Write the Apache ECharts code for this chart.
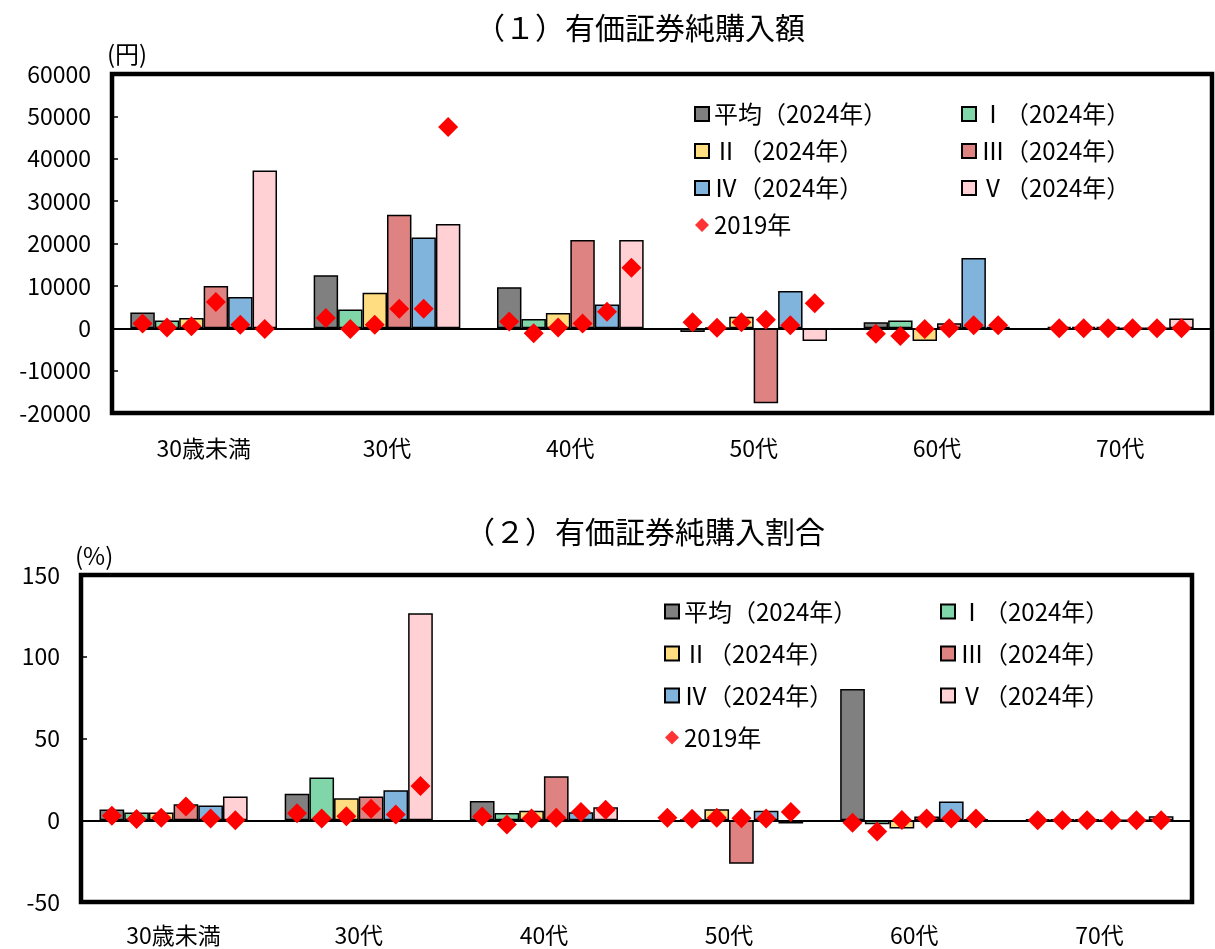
<!DOCTYPE html>
<html>
<head>
<meta charset="utf-8">
<script src="https://cdn.jsdelivr.net/npm/echarts@6/dist/echarts.min.js"></script>
<style>
  html, body { margin: 0; padding: 0; background: #fff; }
  #chart { width: 1215px; height: 949px; }
</style>
</head>
<body>
<div id="chart"></div>
<script>
// 年齢階級
const categories = ['30歳未満', '30代', '40代', '50代', '60代', '70代'];

// 所得階級ラベル
const seriesNames = ['平均（2024年）', 'Ⅰ（2024年）', 'Ⅱ（2024年）', 'Ⅲ（2024年）', 'Ⅳ（2024年）', 'Ⅴ（2024年）'];
const name2019 = '2019年';

// （１）有価証券純購入額（円）2024年
const amountAvg = [3700, 12500, 9700, -900, 1400, 300];
const amountI   = [1800, 4400, 2200, 100, 1800, 300];
const amountII  = [2400, 8400, 3600, 2700, -3000, 300];
const amountIII = [10000, 26800, 20800, -17700, 1200, 0];
const amountIV  = [7400, 21400, 5600, 8800, 16600, 0];
const amountV   = [37200, 24600, 20800, -3000, 300, 2300];

// （１）有価証券純購入額（円）2019年
const amount2019Avg = [1100, 2400, 1600, 1400, -1300, 0];
const amount2019I   = [200, -200, -1200, 100, -1800, 0];
const amount2019II  = [500, 800, 200, 1400, -200, 0];
const amount2019III = [6200, 4600, 1100, 2000, 0, 0];
const amount2019IV  = [800, 4600, 3900, 700, 700, 0];
const amount2019V   = [-200, 47500, 14300, 5900, 700, 0];

// （２）有価証券純購入割合（%）2024年
const ratioAvg = [6.6, 16.2, 11.7, -1.0, 80.3, 0.5];
const ratioI   = [4.7, 26.2, 4.5, 0.3, -2.5, 0.5];
const ratioII  = [4.7, 13.5, 5.8, 6.8, -5.1, 0.5];
const ratioIII = [9.8, 14.6, 26.9, -26.6, 2.3, 0];
const ratioIV  = [9.0, 18.3, 4.9, 5.8, 11.5, 0];
const ratioV   = [14.6, 126.6, 8.0, -2.0, 0.5, 2.5];

// （２）有価証券純購入割合（%）2019年
const ratio2019Avg = [2.7, 4.3, 2.3, 1.5, -1.6, 0];
const ratio2019I   = [0.8, 1.0, -2.6, 0.9, -6.9, 0];
const ratio2019II  = [1.6, 2.5, 1.0, 1.6, 0.2, 0];
const ratio2019III = [8.4, 7.0, 1.6, 1.2, 1.0, 0];
const ratio2019IV  = [1.0, 3.5, 5.1, 1.0, 1.0, 0];
const ratio2019V   = [0, 20.9, 6.4, 5.1, 1.0, 0];

// 軸目盛
const amountAxis = { min: -20000, max: 60000, interval: 10000 };
const ratioAxis  = { min: -50, max: 150, interval: 50 };

const barColors = ['#808080', '#80D6A8', '#FFDD80', '#DE8282', '#80B4DC', '#FFD0D4'];
const FONT = '"Noto Sans CJK JP", "Noto Sans", sans-serif';

const amount2024 = [amountAvg, amountI, amountII, amountIII, amountIV, amountV];
const amount2019 = [amount2019Avg, amount2019I, amount2019II, amount2019III, amount2019IV, amount2019V];
const ratio2024 = [ratioAvg, ratioI, ratioII, ratioIII, ratioIV, ratioV];
const ratio2019 = [ratio2019Avg, ratio2019I, ratio2019II, ratio2019III, ratio2019IV, ratio2019V];

// 各棒の上に 2019年 の値をひし形で重ねる
function buildSeries(values2024, values2019, gridIdx) {
  const list = values2024.map((vals, k) => {
    const s = {
      name: seriesNames[k],
      type: 'bar',
      xAxisIndex: gridIdx,
      yAxisIndex: gridIdx,
      barGap: '0%',
      barCategoryGap: '20%',
      data: vals,
      itemStyle: { color: barColors[k], borderColor: '#000', borderWidth: 1.5 },
      emphasis: { disabled: true },
      markPoint: {
        symbol: 'diamond',
        symbolSize: 20,
        silent: true,
        label: { show: false },
        itemStyle: { color: '#FF0000', borderWidth: 0 },
        data: values2019[k].map((v, i) => ({ coord: [i, v] }))
      }
    };
    if (k === 0) {
      s.markLine = {
        silent: true,
        symbol: 'none',
        label: { show: false },
        lineStyle: { color: '#000', width: 1.8, type: 'solid' },
        data: [{ yAxis: 0 }]
      };
    }
    return s;
  });
  list.push({
    name: name2019,
    type: 'scatter',
    xAxisIndex: gridIdx,
    yAxisIndex: gridIdx,
    symbol: 'diamond',
    symbolSize: 18,
    itemStyle: { color: '#FF0000' },
    data: []
  });
  return list;
}

function legendFor(left, top, textW, lineH) {
  return {
    left: left,
    top: top,
    width: 2 * (14 + 5 + textW) + 13 + 10,
    orient: 'horizontal',
    itemWidth: 14,
    itemHeight: 14,
    itemGap: 13,
    selectedMode: false,
    data: seriesNames.map((n) => ({ name: n, icon: 'rect' })).concat([{ name: name2019, icon: 'diamond' }]),
    textStyle: { fontFamily: FONT, fontSize: 24, color: '#000', width: textW, lineHeight: lineH }
  };
}

function xAxisFor(gridIdx) {
  return {
    type: 'category',
    gridIndex: gridIdx,
    data: categories,
    position: 'bottom',
    axisLine: { show: false, onZero: false },
    axisTick: { show: false },
    axisLabel: { fontFamily: FONT, fontSize: 23, color: '#000', margin: gridIdx === 0 ? 24 : 22 }
  };
}

function yAxisFor(gridIdx, range) {
  return {
    type: 'value',
    gridIndex: gridIdx,
    min: range.min,
    max: range.max,
    interval: range.interval,
    axisLine: { show: false },
    axisTick: { show: true, inside: true, length: 6, lineStyle: { color: '#000', width: 1.5 } },
    splitLine: { show: false },
    axisLabel: { fontFamily: FONT, fontSize: 23, color: '#000', margin: 21, formatter: (v) => String(v) }
  };
}

const chart = echarts.init(document.getElementById('chart'), null, { renderer: 'canvas' });
chart.setOption({
  animation: false,
  backgroundColor: '#fff',
  textStyle: { fontFamily: FONT },
  graphic: [
    { type: 'text', x: 640, y: 28, style: { text: '（１）有価証券純購入額', font: '30px ' + FONT, fill: '#000', textAlign: 'center', textVerticalAlign: 'middle' } },
    { type: 'text', x: 645, y: 532, style: { text: '（２）有価証券純購入割合', font: '30px ' + FONT, fill: '#000', textAlign: 'center', textVerticalAlign: 'middle' } },
    { type: 'text', x: 107, y: 54, style: { text: '(円)', font: '24px ' + FONT, fill: '#000', textAlign: 'left', textVerticalAlign: 'middle' } },
    { type: 'text', x: 75, y: 556, style: { text: '(%)', font: '24px ' + FONT, fill: '#000', textAlign: 'left', textVerticalAlign: 'middle' } }
  ],
  legend: [
    legendFor(689, 97, 234, 24),
    legendFor(659, 592, 243, 29)
  ],
  grid: [
    { left: 112, right: 3, top: 74, height: 339, show: true, borderColor: '#000', borderWidth: 4.5, backgroundColor: 'transparent' },
    { left: 81, right: 23, top: 575, height: 327, show: true, borderColor: '#000', borderWidth: 4.5, backgroundColor: 'transparent' }
  ],
  xAxis: [xAxisFor(0), xAxisFor(1)],
  yAxis: [yAxisFor(0, amountAxis), yAxisFor(1, ratioAxis)],
  series: buildSeries(amount2024, amount2019, 0).concat(buildSeries(ratio2024, ratio2019, 1))
});
</script>
</body>
</html>
